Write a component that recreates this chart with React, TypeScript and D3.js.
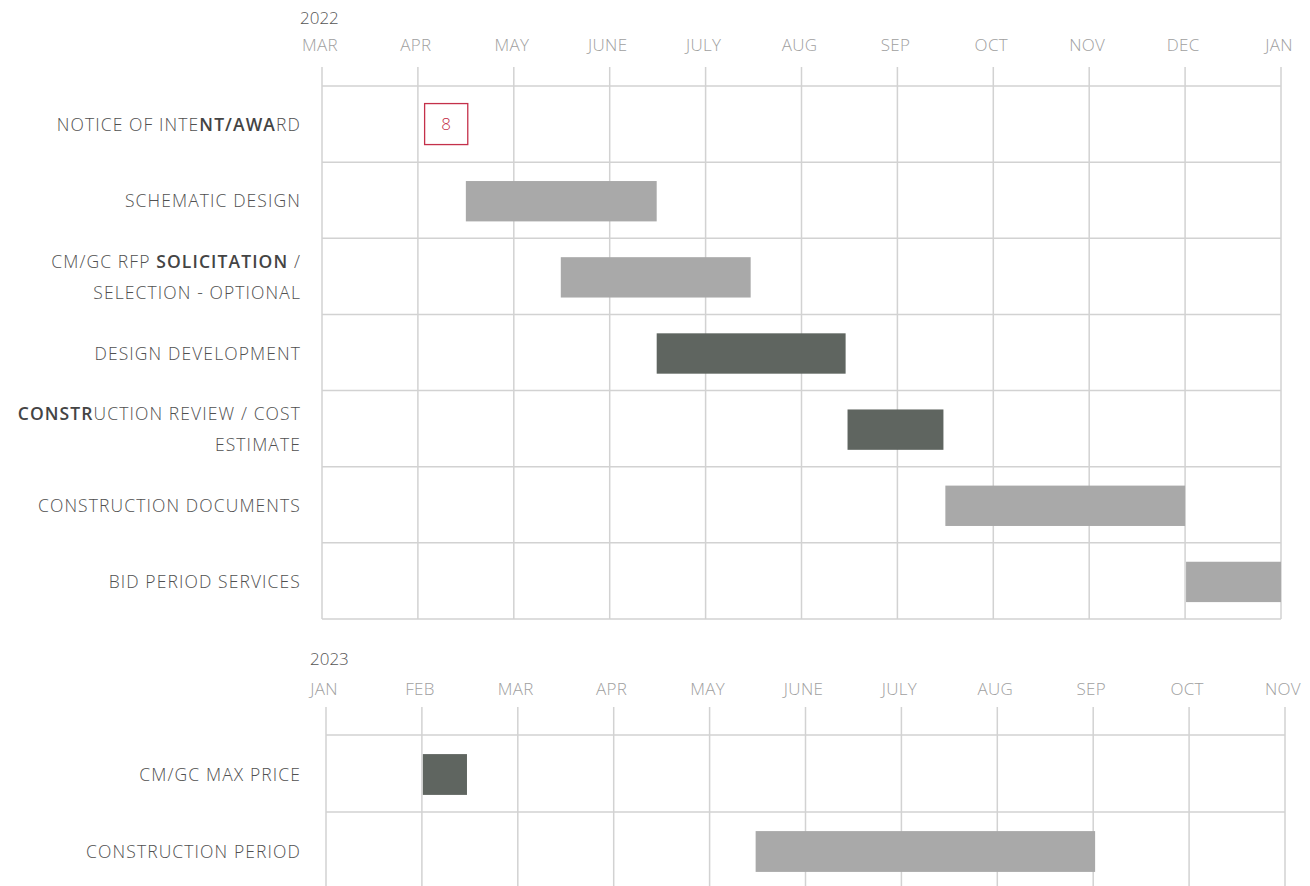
import React from "react";
import * as d3 from "d3";

// ---------- DATA ----------
const year1 = "2022";
const months1 = ["MAR", "APR", "MAY", "JUNE", "JULY", "AUG", "SEP", "OCT", "NOV", "DEC", "JAN"];
// labels: lines, with [..] marking bold fragments
const tasks1 = [
  ["NOTICE OF INTE[NT/AWA]RD"],
  ["SCHEMATIC DESIGN"],
  ["CM/GC RFP [SOLICITATION] /", "SELECTION - OPTIONAL"],
  ["DESIGN DEVELOPMENT"],
  ["[CONSTR]UCTION REVIEW / COST", "ESTIMATE"],
  ["CONSTRUCTION DOCUMENTS"],
  ["BID PERIOD SERVICES"],
];
// month offsets from first month
const starts1 = [1.07, 1.5, 2.49, 3.49, 5.48, 6.5, 9.01];
const ends1 = [1.52, 3.49, 4.47, 5.46, 6.48, 9.0, 10.0];
const kinds1 = ["milestone", "light", "light", "dark", "dark", "light", "light"];
const milestoneText = "8";

const year2 = "2023";
const months2 = ["JAN", "FEB", "MAR", "APR", "MAY", "JUNE", "JULY", "AUG", "SEP", "OCT", "NOV"];
const tasks2 = [["CM/GC MAX PRICE"], ["CONSTRUCTION PERIOD"]];
const starts2 = [1.01, 4.48];
const ends2 = [1.47, 8.02];
const kinds2 = ["dark", "light"];

// ---------- STYLE ----------
const FONT = "'Open Sans', 'DejaVu Sans', sans-serif";
const GRID = "#d2d2d2";
const LIGHT = "#a9a9a9";
const DARK = "#5f6560";
const RED = "#c4304a";
const LABEL = "#505050";
const MONTH = "#a0a0a0";

function parseBold(s: string) {
  const parts: { t: string; b: boolean }[] = [];
  const re = /\[([^\]]*)\]|([^\[]+)/g;
  let m;
  while ((m = re.exec(s))) {
    if (m[1] !== undefined) parts.push({ t: m[1], b: true });
    else parts.push({ t: m[2], b: false });
  }
  return parts;
}

type PanelProps = {
  year: string;
  months: string[];
  tasks: string[][];
  starts: number[];
  ends: number[];
  kinds: string[];
  x0: number;
  x1: number;
  yearY: number;
  monthY: number;
  vTop: number;
  gridTop: number;
  gridBottom: number;
  vBottom: number;
  yearX: number;
};

function Panel(p: PanelProps) {
  const x = d3.scaleLinear().domain([0, p.months.length - 1]).range([p.x0, p.x1]);
  const y = d3
    .scaleBand<number>()
    .domain(d3.range(p.tasks.length))
    .range([p.gridTop, p.gridBottom])
    .paddingInner(0)
    .paddingOuter(0);
  const bw = y.bandwidth();
  const barH = bw * 0.53;
  const labelX = 301;
  const lineGap = 31;
  return (
    <g>
      <text x={p.yearX} y={p.yearY} fontSize={17} fill="#555" fontFamily={FONT} fontWeight={300}>
        {p.year}
      </text>
      {p.months.map((m, i) => (
        <text
          key={"m" + i}
          x={x(i) - 2}
          y={p.monthY}
          textAnchor="middle"
          fontSize={17}
          fontWeight={300}
          letterSpacing={0.3}
          fill={MONTH}
          fontFamily={FONT}
        >
          {m}
        </text>
      ))}
      {p.months.map((m, i) => (
        <line
          key={"v" + i}
          x1={x(i)}
          x2={x(i)}
          y1={p.vTop}
          y2={p.vBottom}
          stroke={GRID}
          strokeWidth={1.5}
        />
      ))}
      {d3.range(p.tasks.length + 1).map((i) => {
        const yy = i < p.tasks.length ? (y(i) as number) : p.gridBottom;
        return (
          <line
            key={"h" + i}
            x1={x(0)}
            x2={x(p.months.length - 1)}
            y1={yy}
            y2={yy}
            stroke={GRID}
            strokeWidth={1.5}
          />
        );
      })}
      {p.tasks.map((lines, i) => {
        const cy = (y(i) as number) + bw / 2 + 2;
        const firstY = cy - ((lines.length - 1) * lineGap) / 2;
        return (
          <g key={"l" + i}>
            {lines.map((ln, j) => (
              <text
                key={j}
                x={labelX}
                y={firstY + j * lineGap}
                textAnchor="end"
                dominantBaseline="middle"
                fontSize={17.5}
                fontWeight={300}
                letterSpacing={1.1}
                fill={LABEL}
                fontFamily={FONT}
              >
                {parseBold(ln).map((pt, k) => (
                  <tspan key={k} fontWeight={pt.b ? 600 : 300} fill={pt.b ? "#444" : LABEL}>
                    {pt.t}
                  </tspan>
                ))}
              </text>
            ))}
          </g>
        );
      })}
      {p.tasks.map((_, i) => {
        const cy = (y(i) as number) + bw / 2 + 1;
        const xs = x(p.starts[i]);
        const xe = x(p.ends[i]);
        if (p.kinds[i] === "milestone") {
          const h = 41;
          return (
            <g key={"b" + i}>
              <rect
                x={xs}
                y={cy - h / 2 - 1}
                width={xe - xs}
                height={h}
                fill="none"
                stroke={RED}
                strokeWidth={1.3}
              />
              <text
                x={(xs + xe) / 2}
                y={cy}
                textAnchor="middle"
                dominantBaseline="middle"
                fontSize={17}
                fontWeight={300}
                fill={RED}
                fontFamily={FONT}
              >
                {milestoneText}
              </text>
            </g>
          );
        }
        return (
          <rect
            key={"b" + i}
            x={xs}
            y={cy - barH / 2}
            width={xe - xs}
            height={barH}
            fill={p.kinds[i] === "dark" ? DARK : LIGHT}
          />
        );
      })}
    </g>
  );
}

export default function App() {
  return (
    <svg
      width={1310}
      height={886}
      style={{ position: "absolute", left: 0, top: 0, background: "#fff" }}
    >
      <rect width={1310} height={886} fill="#fff" />
      <Panel
        year={year1}
        months={months1}
        tasks={tasks1}
        starts={starts1}
        ends={ends1}
        kinds={kinds1}
        x0={322}
        x1={1281}
        yearX={300}
        yearY={24}
        monthY={51}
        vTop={67}
        gridTop={86}
        gridBottom={619}
        vBottom={619}
      />
      <Panel
        year={year2}
        months={months2}
        tasks={tasks2}
        starts={starts2}
        ends={ends2}
        kinds={kinds2}
        x0={326}
        x1={1285}
        yearX={310}
        yearY={665}
        monthY={695}
        vTop={707}
        gridTop={735}
        gridBottom={889}
        vBottom={889}
      />
    </svg>
  );
}
